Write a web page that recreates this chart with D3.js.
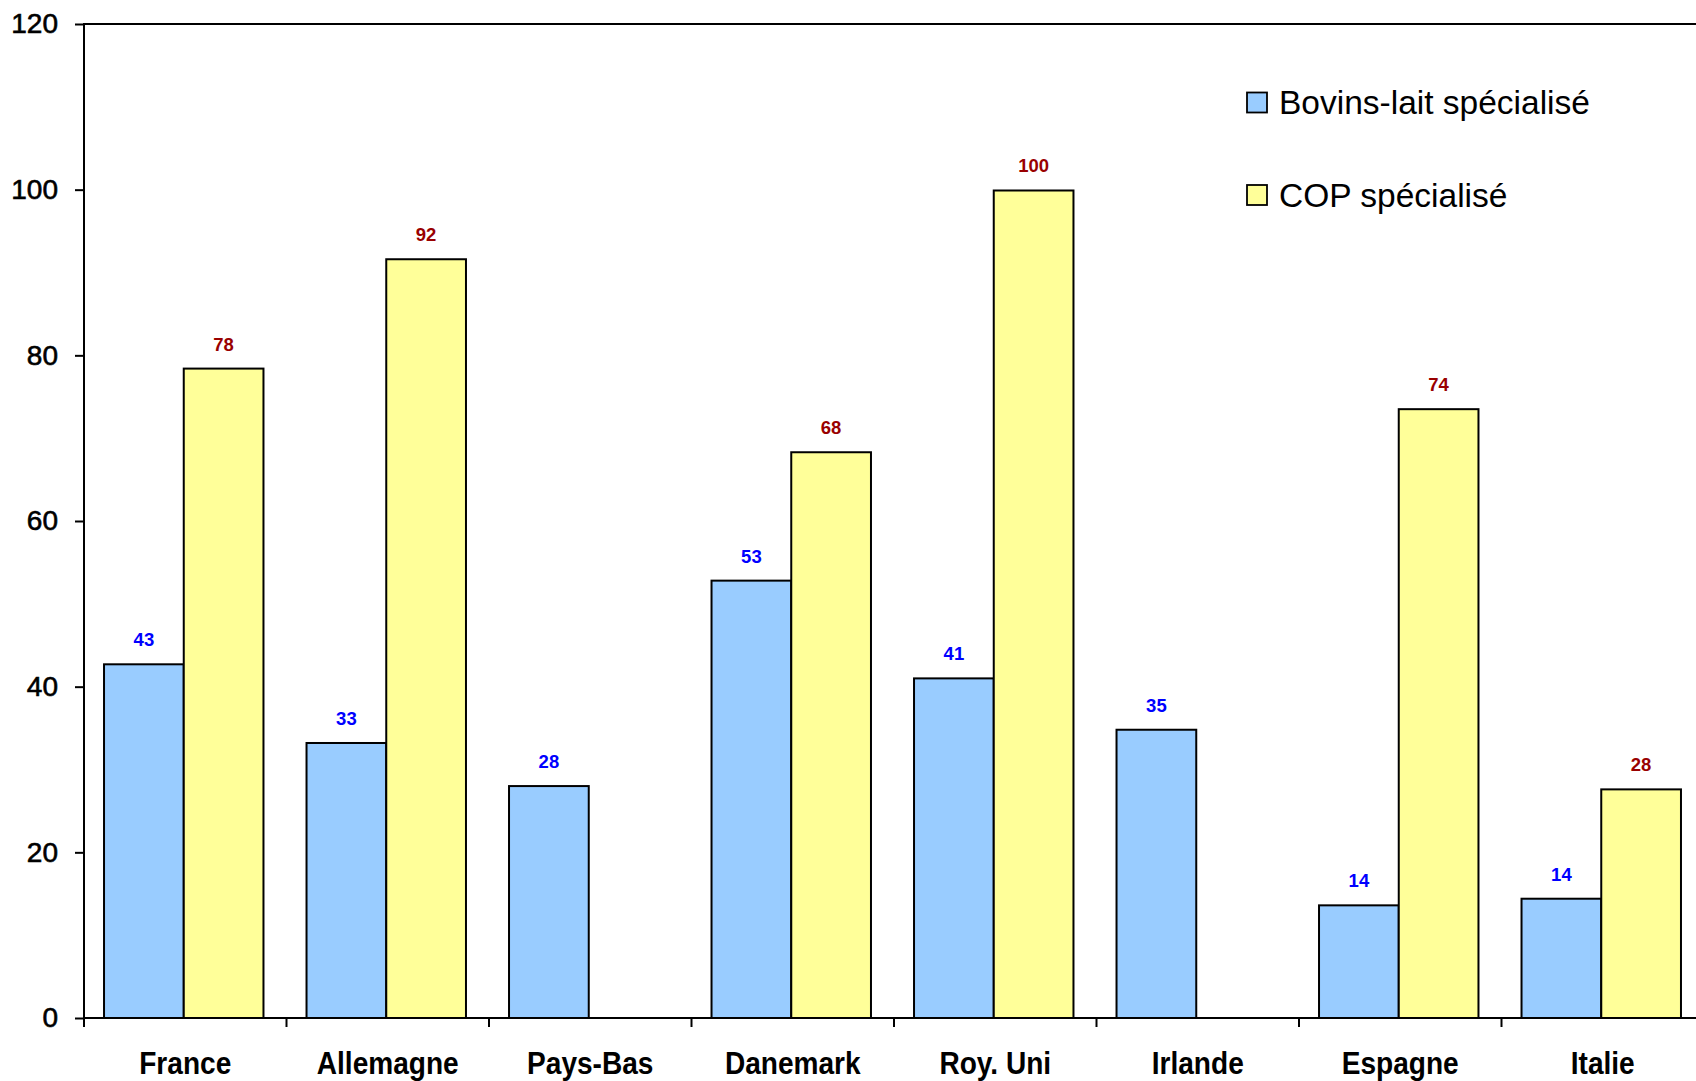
<!DOCTYPE html>
<html>
<head>
<meta charset="utf-8">
<script src="https://cdn.jsdelivr.net/npm/d3@7/dist/d3.min.js"></script>
<style>
  html, body { margin: 0; padding: 0; background: #ffffff; }
  svg { display: block; }
  text { font-family: "Liberation Sans", Arial, sans-serif; }
</style>
</head>
<body>
<svg id="chart" width="1696" height="1081"></svg>
<script>
// ---- Data ----
const categories = ["France", "Allemagne", "Pays-Bas", "Danemark", "Roy. Uni", "Irlande", "Espagne", "Italie"];
const seriesNames = ["Bovins-lait spécialisé", "COP spécialisé"];
const bovinsLait = [42.7, 33.2, 28.0, 52.8, 41.0, 34.8, 13.6, 14.4];
const copSpecialise = [78.4, 91.6, null, 68.3, 99.9, null, 73.5, 27.6];
const yTicks = [0, 20, 40, 60, 80, 100, 120];

const seriesValues = [bovinsLait, copSpecialise];
const seriesFill = ["#99CCFF", "#FFFF99"];
const labelColor = ["#0000FF", "#990000"];

// ---- Layout ----
const svg = d3.select("#chart");
const mLeft = 84, mTop = 24, mBottom = 1018;
const step = 202.5;
const mRight = mLeft + step * categories.length;

const x = d3.scaleBand().domain(categories).range([mLeft, mRight]).paddingInner(0).paddingOuter(0);
const x1 = d3.scaleBand().domain(d3.range(seriesNames.length)).range([-1.5, x.bandwidth() - 1.5])
  .paddingInner(0).paddingOuter(0.27);
const y = d3.scaleLinear().domain([0, 120]).range([mBottom, mTop]);

// Top border
svg.append("line")
  .attr("x1", mLeft).attr("x2", 1696).attr("y1", y(120)).attr("y2", y(120))
  .attr("stroke", "#000").attr("stroke-width", 2);

// Bars
const rows = [];
categories.forEach((c, i) => {
  seriesValues.forEach((vals, s) => {
    if (vals[i] != null) rows.push({ c, s, v: vals[i] });
  });
});

svg.append("g").selectAll("rect").data(rows).join("rect")
  .attr("x", d => x(d.c) + x1(d.s))
  .attr("y", d => y(d.v))
  .attr("width", x1.bandwidth())
  .attr("height", d => y(0) - y(d.v))
  .attr("fill", d => seriesFill[d.s])
  .attr("stroke", "#000").attr("stroke-width", 2);

// Value labels
svg.append("g").selectAll("text").data(rows).join("text")
  .attr("x", d => x(d.c) + x1(d.s) + x1.bandwidth() / 2)
  .attr("y", d => y(d.v) - 18)
  .attr("text-anchor", "middle")
  .attr("font-size", "18.5px").attr("font-weight", "bold")
  .attr("fill", d => labelColor[d.s])
  .text(d => d3.format(".0f")(d.v));

// Y axis
const yAxis = svg.append("g").attr("transform", `translate(${mLeft},0)`)
  .call(d3.axisLeft(y).tickValues(yTicks).tickSize(9).tickSizeOuter(0).tickPadding(17));
yAxis.select(".domain").remove();
yAxis.selectAll(".tick line").attr("stroke", "#000").attr("stroke-width", 2);
yAxis.selectAll(".tick text").attr("font-size", "28px").attr("fill", "#000")
  .attr("stroke", "#000").attr("stroke-width", 0.6)
  .attr("font-family", "'Liberation Sans', Arial, sans-serif");

svg.append("line")
  .attr("x1", mLeft).attr("x2", mLeft).attr("y1", mTop - 1).attr("y2", mBottom + 9)
  .attr("stroke", "#000").attr("stroke-width", 2);

// X axis line
svg.append("line")
  .attr("x1", mLeft).attr("x2", 1696).attr("y1", mBottom).attr("y2", mBottom)
  .attr("stroke", "#000").attr("stroke-width", 2);

// X boundary ticks
const bounds = categories.map(c => x(c)).concat([mRight]);
svg.append("g").selectAll("line").data(bounds.slice(1)).join("line")
  .attr("x1", d => d).attr("x2", d => d)
  .attr("y1", mBottom).attr("y2", mBottom + 9)
  .attr("stroke", "#000").attr("stroke-width", 2);

// X labels
const xLab = svg.append("g").selectAll("text").data(categories).join("text")
  .attr("x", d => x(d) + x.bandwidth() / 2)
  .attr("y", 1074)
  .attr("text-anchor", "middle")
  .attr("font-size", "31px").attr("font-weight", "bold").attr("fill", "#000")
  .text(d => d);
xLab.each(function () {
  const len = this.getComputedTextLength();
  d3.select(this).attr("textLength", len * 0.905).attr("lengthAdjust", "spacingAndGlyphs");
});

// Legend
const legendY = [102.5, 195];
const lg = svg.append("g").selectAll("g").data(seriesNames).join("g");
lg.append("rect")
  .attr("x", 1247).attr("y", (d, i) => legendY[i] - 10)
  .attr("width", 20).attr("height", 20)
  .attr("fill", (d, i) => seriesFill[i])
  .attr("stroke", "#000").attr("stroke-width", 1.8);
lg.append("text")
  .attr("x", 1279).attr("y", (d, i) => legendY[i] + 11.5)
  .attr("font-size", "33.5px").attr("fill", "#000")
  .text(d => d);
</script>
</body>
</html>
